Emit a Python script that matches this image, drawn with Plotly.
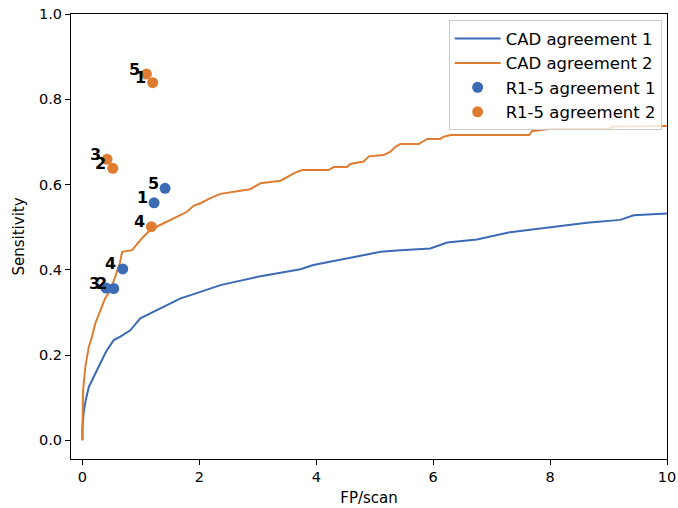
import plotly.graph_objects as go

# CAD FROC curves
cad1_fp = [0.0, 0.0, 0.02, 0.057, 0.11, 0.22, 0.31, 0.376, 0.42, 0.536, 0.65, 0.82, 0.99,
           1.33, 1.68, 2.02, 2.36, 3.05, 3.73, 3.95, 4.41, 5.1, 5.44, 5.95, 6.24, 6.75,
           7.27, 7.95, 8.63, 9.2, 9.43, 10.0]
cad1_sens = [0.0, 0.03, 0.063, 0.094, 0.125, 0.157, 0.18, 0.2, 0.211, 0.235, 0.243, 0.258, 0.286,
             0.309, 0.333, 0.348, 0.364, 0.385, 0.401, 0.411, 0.424, 0.442, 0.446, 0.450, 0.464, 0.471,
             0.487, 0.499, 0.510, 0.517, 0.528, 0.532]

cad2_fp = [0.0, 0.01, 0.05, 0.11, 0.165, 0.22, 0.31, 0.39, 0.48, 0.56, 0.64, 0.68, 0.85,
           1.02, 1.16, 1.33, 1.56, 1.79, 1.90, 2.02, 2.19, 2.36, 2.87, 3.05, 3.39, 3.50,
           3.64, 3.76, 4.21, 4.30, 4.53, 4.58, 4.81, 4.90, 5.15, 5.27, 5.36, 5.44, 5.75,
           5.90, 6.12, 6.18, 6.30, 7.64, 7.69, 7.98, 9.0, 9.06, 10.0]
cad2_sens = [0.0, 0.114, 0.172, 0.219, 0.243, 0.274, 0.305, 0.333, 0.352, 0.384, 0.415, 0.442, 0.446,
             0.474, 0.493, 0.505, 0.521, 0.536, 0.550, 0.556, 0.568, 0.578, 0.589, 0.603, 0.609, 0.617,
             0.628, 0.634, 0.634, 0.641, 0.641, 0.648, 0.654, 0.666, 0.669, 0.677, 0.689, 0.695, 0.695,
             0.707, 0.707, 0.712, 0.716, 0.716, 0.725, 0.730, 0.730, 0.736, 0.737]

# Reader operating points
reader_labels = ["1", "2", "3", "4", "5"]
r_agree1_fp = [1.226, 0.536, 0.405, 0.69, 1.414]
r_agree1_sens = [0.557, 0.356, 0.357, 0.402, 0.591]
r_agree2_fp = [1.203, 0.519, 0.422, 1.18, 1.095]
r_agree2_sens = [0.839, 0.638, 0.659, 0.501, 0.859]

x_ticks = [0, 2, 4, 6, 8, 10]
y_ticks = [0.0, 0.2, 0.4, 0.6, 0.8, 1.0]

BLUE = "#3b6bb4"
ORANGE = "#de7c31"
FONT = "DejaVu Sans"

fig = go.Figure()
fig.add_trace(go.Scatter(x=cad1_fp, y=cad1_sens, mode="lines", name="CAD agreement 1",
                         line=dict(color=BLUE, width=2)))
fig.add_trace(go.Scatter(x=cad2_fp, y=cad2_sens, mode="lines", name="CAD agreement 2",
                         line=dict(color=ORANGE, width=2)))
fig.add_trace(go.Scatter(x=r_agree1_fp, y=r_agree1_sens, mode="markers", name="R1-5 agreement 1",
                         marker=dict(color=BLUE, size=11)))
fig.add_trace(go.Scatter(x=r_agree2_fp, y=r_agree2_sens, mode="markers", name="R1-5 agreement 2",
                         marker=dict(color=ORANGE, size=11)))

for xs, ys in ((r_agree1_fp, r_agree1_sens), (r_agree2_fp, r_agree2_sens)):
    for lab, x, y in zip(reader_labels, xs, ys):
        fig.add_annotation(x=x, y=y, text="<b>%s</b>" % lab, showarrow=False,
                           xshift=-12, yshift=5,
                           font=dict(family=FONT, size=16, color="black"))

fig.update_layout(
    width=678, height=508,
    margin=dict(l=71, r=11, t=14, b=49, autoexpand=False),
    plot_bgcolor="white", paper_bgcolor="white",
    font=dict(family=FONT, size=15, color="black"),
    showlegend=True,
    legend=dict(x=0.991, y=0.986, xanchor="right", yanchor="top",
                bgcolor="rgba(255,255,255,0.8)", bordercolor="#cccccc", borderwidth=1,
                font=dict(family=FONT, size=16.5), tracegroupgap=0, itemwidth=46),
)
fig.update_xaxes(range=[-0.195, 10], tickvals=x_ticks, ticktext=[str(v) for v in x_ticks],
                 showline=True, linecolor="black", linewidth=1, mirror=True, automargin=False,
                 ticks="outside", ticklen=5, tickcolor="black", showgrid=False, zeroline=False,
                 tickfont=dict(size=14.5),
                 title=dict(text="FP/scan", standoff=8, font=dict(size=15)))
fig.update_yaxes(range=[-0.044, 1.0], tickvals=y_ticks, ticktext=["%.1f" % v for v in y_ticks],
                 showline=True, linecolor="black", linewidth=1, mirror=True, automargin=False,
                 ticks="outside", ticklen=5, tickcolor="black", showgrid=False, zeroline=False,
                 tickfont=dict(size=14.5),
                 title=dict(text="Sensitivity", standoff=10, font=dict(size=15)))

fig.write_html("out.html")
